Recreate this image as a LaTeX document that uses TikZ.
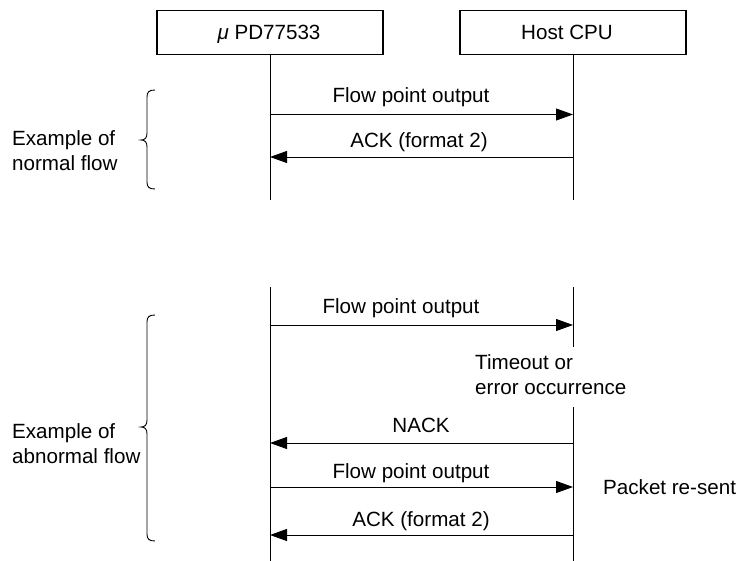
\documentclass[tikz,border=0pt]{standalone}
\usepackage{fontspec}
\setmainfont{Liberation Sans}
\usetikzlibrary{arrows.meta}
\begin{document}
\begin{tikzpicture}[x=1pt,y=-1pt,
  font=\fontsize{20.6}{25}\selectfont,
  box/.style={draw,line width=1.8pt,minimum width=226pt,minimum height=44pt,inner sep=0pt},
  life/.style={line width=0.9pt},
  msg/.style={line width=0.9pt,-{Triangle[length=17pt,width=12pt]}},
  lbl/.style={anchor=base,inner sep=0pt},
  txt/.style={anchor=base west,inner sep=0pt,align=left},
  brace/.style={line width=0.9pt}]
\useasboundingbox (0,0) rectangle (739,561);
% header boxes
\node[box] (dev) at (270,32.5) {};
\node[lbl] (devt) at (269,40) {{\itshape μ} PD77533};
\node[box] (host) at (573,32.5) {};
\node[lbl] (hostt) at (567,40) {Host CPU};
% lifelines, normal section
\coordinate (dB1) at (270,200);
\coordinate (hB1) at (573,200);
\draw[life] (dev.south) -- (dB1);
\draw[life] (host.south) -- (hB1);
% normal flow messages
\coordinate (n1L) at (270,114.5);
\coordinate (n1R) at (573,114.5);
\coordinate (n2L) at (270,157);
\coordinate (n2R) at (573,157);
\draw[msg] (n1L) -- (n1R);
\draw[msg] (n2R) -- (n2L);
\node[lbl] (l1) at (411,103) {Flow point output};
\node[lbl] (l2) at (419,148) {ACK (format 2)};
% normal brace
\draw[brace] (155,90) .. controls (149,90) and (147,92) .. (147,97) -- (147,133)
  .. controls (147,138) and (145,140) .. (141,140)
  .. controls (145,140) and (147,142) .. (147,147) -- (147,182)
  .. controls (147,187) and (149,189) .. (155,189);
\node[txt] (nf) at (12,171) {Example of\\normal flow};
% abnormal section lifelines
\coordinate (dT2) at (270,287);
\coordinate (dB2) at (270,561);
\coordinate (hT2) at (573,287);
\coordinate (hG1) at (573,347);
\coordinate (hG2) at (573,407);
\coordinate (hB2) at (573,561);
\draw[life] (dT2) -- (dB2);
\draw[life] (hT2) -- (hG1);
\draw[life] (hG2) -- (hB2);
% abnormal messages
\coordinate (a1L) at (270,325);
\coordinate (a1R) at (573,325);
\coordinate (a2L) at (270,443);
\coordinate (a2R) at (573,443);
\coordinate (a3L) at (270,487);
\coordinate (a3R) at (573,487);
\coordinate (a4L) at (270,535);
\coordinate (a4R) at (573,535);
\draw[msg] (a1L) -- (a1R);
\draw[msg] (a2R) -- (a2L);
\draw[msg] (a3L) -- (a3R);
\draw[msg] (a4R) -- (a4L);
\node[lbl] (m1) at (401,314) {Flow point output};
\node[txt] (to) at (475,394) {Timeout or\\error occurrence};
\node[lbl] (m2) at (421,432) {NACK};
\node[lbl] (m3) at (411,478) {Flow point output};
\node[lbl] (m4) at (421,526) {ACK (format 2)};
\node[txt] (pr) at (603,494) {Packet re-sent};
% abnormal brace
\draw[brace] (155,315) .. controls (149,315) and (147,317) .. (147,322) -- (147,420)
  .. controls (147,425) and (145,427) .. (141,427)
  .. controls (145,427) and (147,429) .. (147,434) -- (147,534)
  .. controls (147,539) and (149,541) .. (155,541);
\node[txt] (af) at (12,463) {Example of\\abnormal flow};
\end{tikzpicture}
\end{document}
